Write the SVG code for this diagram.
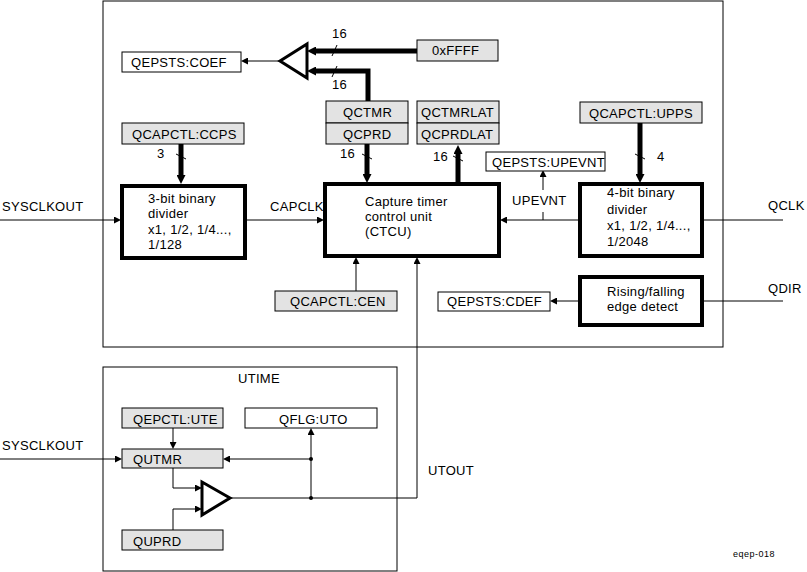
<svg xmlns="http://www.w3.org/2000/svg" width="807" height="572" viewBox="0 0 807 572">
<defs>
<marker id="a" viewBox="0 0 7 7" refX="0" refY="3.5" markerWidth="7" markerHeight="7" markerUnits="userSpaceOnUse" orient="auto"><path d="M0,0 L7,3.5 L0,7 z" fill="#000"/></marker>
<marker id="ab" viewBox="0 0 9 9" refX="0" refY="4.5" markerWidth="9" markerHeight="9" markerUnits="userSpaceOnUse" orient="auto"><path d="M0,0 L9,4.5 L0,9 z" fill="#000"/></marker>
</defs>
<style>
text{font-family:"Liberation Sans",Arial,sans-serif;font-size:13px;letter-spacing:0.3px;fill:#000}
.g{fill:#e3e3e3;stroke:#000;stroke-width:1}
.w{fill:#fff;stroke:#000;stroke-width:1}
.t{fill:#fff;stroke:#000;stroke-width:4}
.c{fill:none;stroke:#000;stroke-width:1}
.cb{fill:none;stroke:#000;stroke-width:5}
.tick{stroke:#000;stroke-width:1}
.cmp{fill:#fff;stroke:#000;stroke-width:3;stroke-linejoin:miter}
</style>
<rect width="807" height="572" fill="#fff"/>
<g id="frame-main"><rect x="103" y="1" width="620" height="346" fill="none" stroke="#000" stroke-width="1"/></g>
<g id="frame-utime"><rect x="103" y="367" width="294" height="204" fill="none" stroke="#000" stroke-width="1"/><text x="238" y="383">UTIME</text></g>

<g id="connectors">
<path class="c" d="M0,220 H114" marker-end="url(#a)"/>
<path class="c" d="M245,220 H317" marker-end="url(#a)"/>
<path class="c" d="M580,220 H507" marker-end="url(#a)"/>
<path class="c" d="M543,212 V220"/>
<path class="c" d="M543,190 V177" marker-end="url(#a)"/>
<path class="c" d="M701,220 H783"/>
<path class="c" d="M703,301 H783"/>
<path class="c" d="M580,301 H557" marker-end="url(#a)"/>
<path class="c" d="M356,291 V264" marker-end="url(#a)"/>
<path class="c" d="M230,498 H417 V264" marker-end="url(#a)"/>
<path class="c" d="M279,61 H248" marker-end="url(#a)"/>
<path class="cb" d="M417,51 H316" marker-end="url(#ab)"/>
<path class="cb" d="M368,101 V71 H316" marker-end="url(#ab)"/>
<path class="cb" d="M181,144 V175" marker-end="url(#ab)"/>
<path class="cb" d="M367,144 V174" marker-end="url(#ab)"/>
<path class="cb" d="M458,184 V154" marker-end="url(#ab)"/>
<path class="cb" d="M640,123 V174" marker-end="url(#ab)"/>
<path class="c" d="M0,459 H115" marker-end="url(#a)"/>
<path class="c" d="M173,428 V442" marker-end="url(#a)"/>
<path class="c" d="M173,468 V488 H195" marker-end="url(#a)"/>
<path class="c" d="M173,530 V509 H195" marker-end="url(#a)"/>
<path class="c" d="M311,498 V435" marker-end="url(#a)"/>
<path class="c" d="M311,459 H230" marker-end="url(#a)"/>
<circle cx="311" cy="498" r="2" fill="#000"/>
<circle cx="311" cy="459" r="2" fill="#000"/>
<line class="tick" x1="332" y1="56" x2="337" y2="45"/>
<line class="tick" x1="332" y1="77" x2="337" y2="66"/>
<line class="tick" x1="176" y1="154" x2="186" y2="159"/>
<line class="tick" x1="362" y1="154" x2="372" y2="159"/>
<line class="tick" x1="453" y1="156" x2="463" y2="161"/>
<line class="tick" x1="635" y1="154" x2="645" y2="159"/>
<text x="332" y="38">16</text>
<text x="332" y="89">16</text>
<text x="157" y="158">3</text>
<text x="340" y="158">16</text>
<text x="433" y="161">16</text>
<text x="657" y="161">4</text>
<text x="2" y="211">SYSCLKOUT</text>
<text x="270" y="211">CAPCLK</text>
<text x="512" y="205">UPEVNT</text>
<text x="768" y="210">QCLK</text>
<text x="768" y="293">QDIR</text>
<text x="2" y="450">SYSCLKOUT</text>
<text x="428" y="475">UTOUT</text>
</g>

<g id="cmp-top"><polygon class="cmp" points="307,44 307,78 280,61"/></g>
<g id="coef"><rect class="w" x="122" y="52" width="119" height="20"/><text x="131" y="67">QEPSTS:COEF</text></g>
<g id="ffff"><rect class="g" x="417" y="40" width="81" height="21"/><text x="432" y="55">0xFFFF</text></g>
<g id="qctmr"><rect class="g" x="326" y="101" width="82" height="22"/><text x="343" y="117">QCTMR</text></g>
<g id="qcprd"><rect class="g" x="326" y="123" width="82" height="21"/><text x="343" y="139">QCPRD</text></g>
<g id="qctmrlat"><rect class="g" x="417" y="101" width="82" height="22"/><text x="421" y="117">QCTMRLAT</text></g>
<g id="qcprdlat"><rect class="g" x="417" y="123" width="82" height="21"/><text x="421" y="139">QCPRDLAT</text></g>
<g id="ccps"><rect class="g" x="122" y="123" width="122" height="21"/><text x="132" y="139">QCAPCTL:CCPS</text></g>
<g id="upps"><rect class="g" x="580" y="102" width="122" height="21"/><text x="589" y="118">QCAPCTL:UPPS</text></g>
<g id="upevnt"><rect class="w" x="486" y="152" width="119" height="19"/><text x="492" y="167">QEPSTS:UPEVNT</text></g>
<g id="div3"><rect class="t" x="122" y="186" width="123" height="72"/><text x="148" y="203">3-bit binary</text><text x="148" y="218">divider</text><text x="148" y="234">x1, 1/2, 1/4...,</text><text x="148" y="249">1/128</text></g>
<g id="ctcu"><rect class="t" x="325" y="184" width="174" height="72"/><text x="365" y="206">Capture timer</text><text x="365" y="221">control unit</text><text x="365" y="236">(CTCU)</text></g>
<g id="div4"><rect class="t" x="580" y="184" width="122" height="72"/><text x="607" y="197">4-bit binary</text><text x="607" y="214">divider</text><text x="607" y="230">x1, 1/2, 1/4...,</text><text x="607" y="246">1/2048</text></g>
<g id="edge"><rect class="t" x="580" y="277" width="122" height="48"/><text x="607" y="296">Rising/falling</text><text x="607" y="311">edge detect</text></g>
<g id="cdef"><rect class="w" x="438" y="292" width="112" height="19"/><text x="447" y="306">QEPSTS:CDEF</text></g>
<g id="cen"><rect class="g" x="275" y="291" width="122" height="20"/><text x="290" y="306">QCAPCTL:CEN</text></g>
<g id="ute"><rect class="g" x="122" y="408" width="101" height="20"/><text x="133" y="424">QEPCTL:UTE</text></g>
<g id="uto"><rect class="w" x="245" y="408" width="132" height="20"/><text x="279" y="424">QFLG:UTO</text></g>
<g id="qutmr"><rect class="g" x="122" y="449" width="101" height="19"/><text x="133" y="464">QUTMR</text></g>
<g id="quprd"><rect class="g" x="122" y="530" width="101" height="20"/><text x="133" y="546">QUPRD</text></g>
<g id="cmp-bot"><polygon class="cmp" points="202,482 202,515 230,498"/></g>
<text x="733" y="557" style="font-size:9px;letter-spacing:0.5px">eqep-018</text>
</svg>
